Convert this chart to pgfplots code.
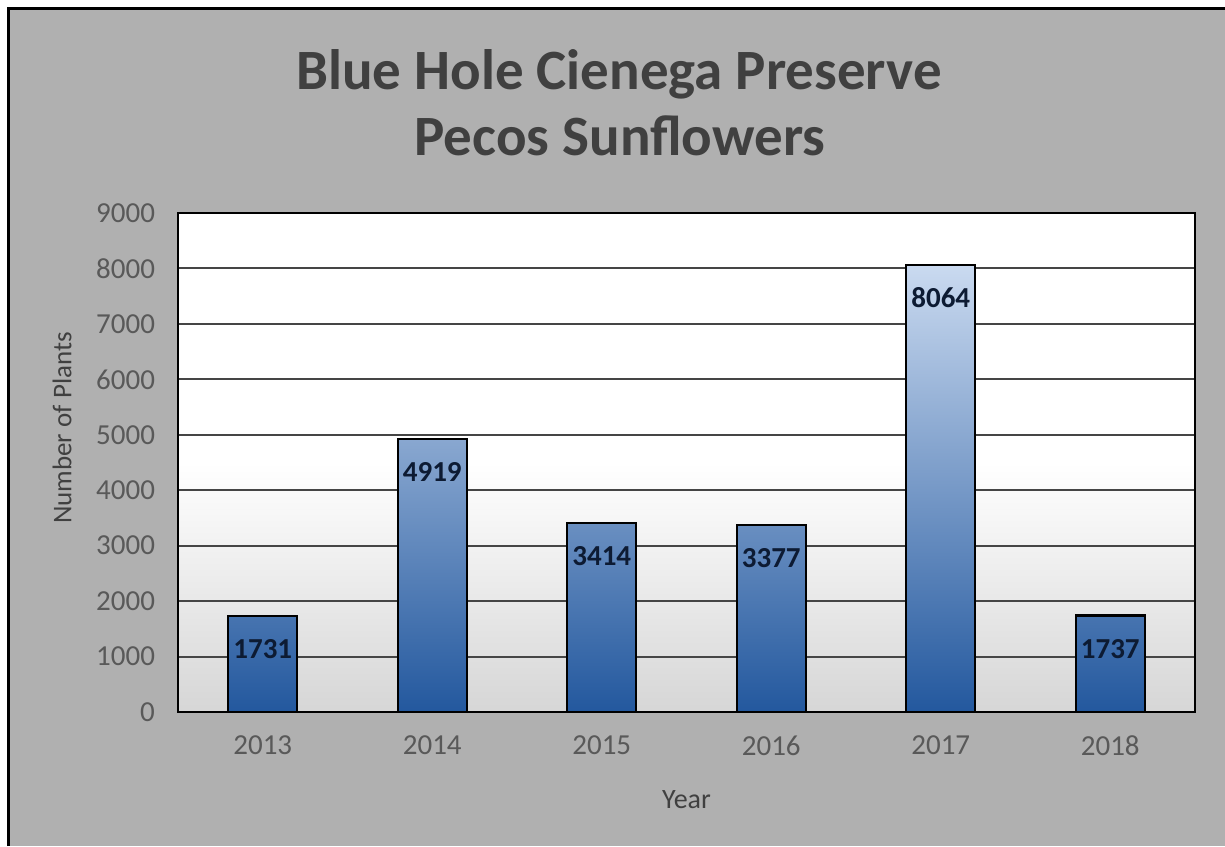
\documentclass[border=0pt]{standalone}
\usepackage{pgfplots}
\pgfplotsset{compat=1.18}
\usepackage{fontspec}
\setmainfont{Carlito}
\definecolor{bgGray}{HTML}{B0B0B0}
\definecolor{titleC}{HTML}{404040}
\definecolor{tickC}{HTML}{595959}
\definecolor{barTop}{HTML}{CADAF0}
\definecolor{barBot}{HTML}{23589E}
\definecolor{lblC}{HTML}{0D1B33}
\definecolor{gridC}{HTML}{454545}
\begin{document}
\begin{tikzpicture}
\useasboundingbox (0,0) rectangle (612.5pt,423pt);
\fill[white] (0,0) rectangle (612.5pt,423pt);
\fill[bgGray] (4pt,0) rectangle (612.5pt,419pt);
\draw[black, line width=1.5pt] (4.25pt,0) -- (4.25pt,418.75pt) -- (612.5pt,418.75pt);
\node[anchor=base, text=titleC, font=\bfseries\fontsize{28.5}{34}\selectfont] at (309.5pt,378pt) {Blue Hole Cienega Preserve};
\node[anchor=base, text=titleC, font=\bfseries\fontsize{28.5}{34}\selectfont] at (310pt,345pt) {Pecos Sunflowers};
\begin{axis}[
  at={(89pt,67pt)}, anchor=south west,
  width=508.5pt, height=249.5pt, scale only axis,
  xmin=-0.5, xmax=5.5, ymin=0, ymax=9000,
  xtick=data, xticklabels={2013,2014,2015,2016,2017,2018},
  ytick={0,1000,2000,3000,4000,5000,6000,7000,8000,9000},
  ymajorgrids, grid style={gridC, line width=1pt},
  axis line style={black, line width=1.2pt},
  major tick length=0pt,
  /pgf/number format/.cd, 1000 sep={}, assume math mode=true, /pgfplots/.cd,
  tick label style={font=\fontsize{14.5}{17}\selectfont, text=tickC},
  yticklabel style={xshift=-8pt},
  xticklabel style={yshift=-8.5pt},
  ylabel={Number of Plants},
  ylabel style={at={(axis description cs:-0.114,0.569)}, anchor=center, rotate=0, font=\fontsize{13.5}{16}\selectfont, text=titleC},
  xlabel={Year},
  xlabel style={at={(axis description cs:0.5,0)}, anchor=center, yshift=-44pt, font=\fontsize{14}{16}\selectfont, text=titleC},
  axis background/.style={shade, top color=white, bottom color=black!16, middle color=white},
  ybar, bar width=34.5pt,
  nodes near coords,
  every node near coord/.append style={anchor=center, yshift=-16.5pt, font=\bfseries\fontsize{14.5}{17}\selectfont, text=lblC},
]
\addplot[draw=black, line width=1.2pt, top color=barTop, bottom color=barBot] coordinates {
  (0,1731) (1,4919) (2,3414) (3,3377) (4,8064) (5,1737)
};
\end{axis}
\end{tikzpicture}
\end{document}
